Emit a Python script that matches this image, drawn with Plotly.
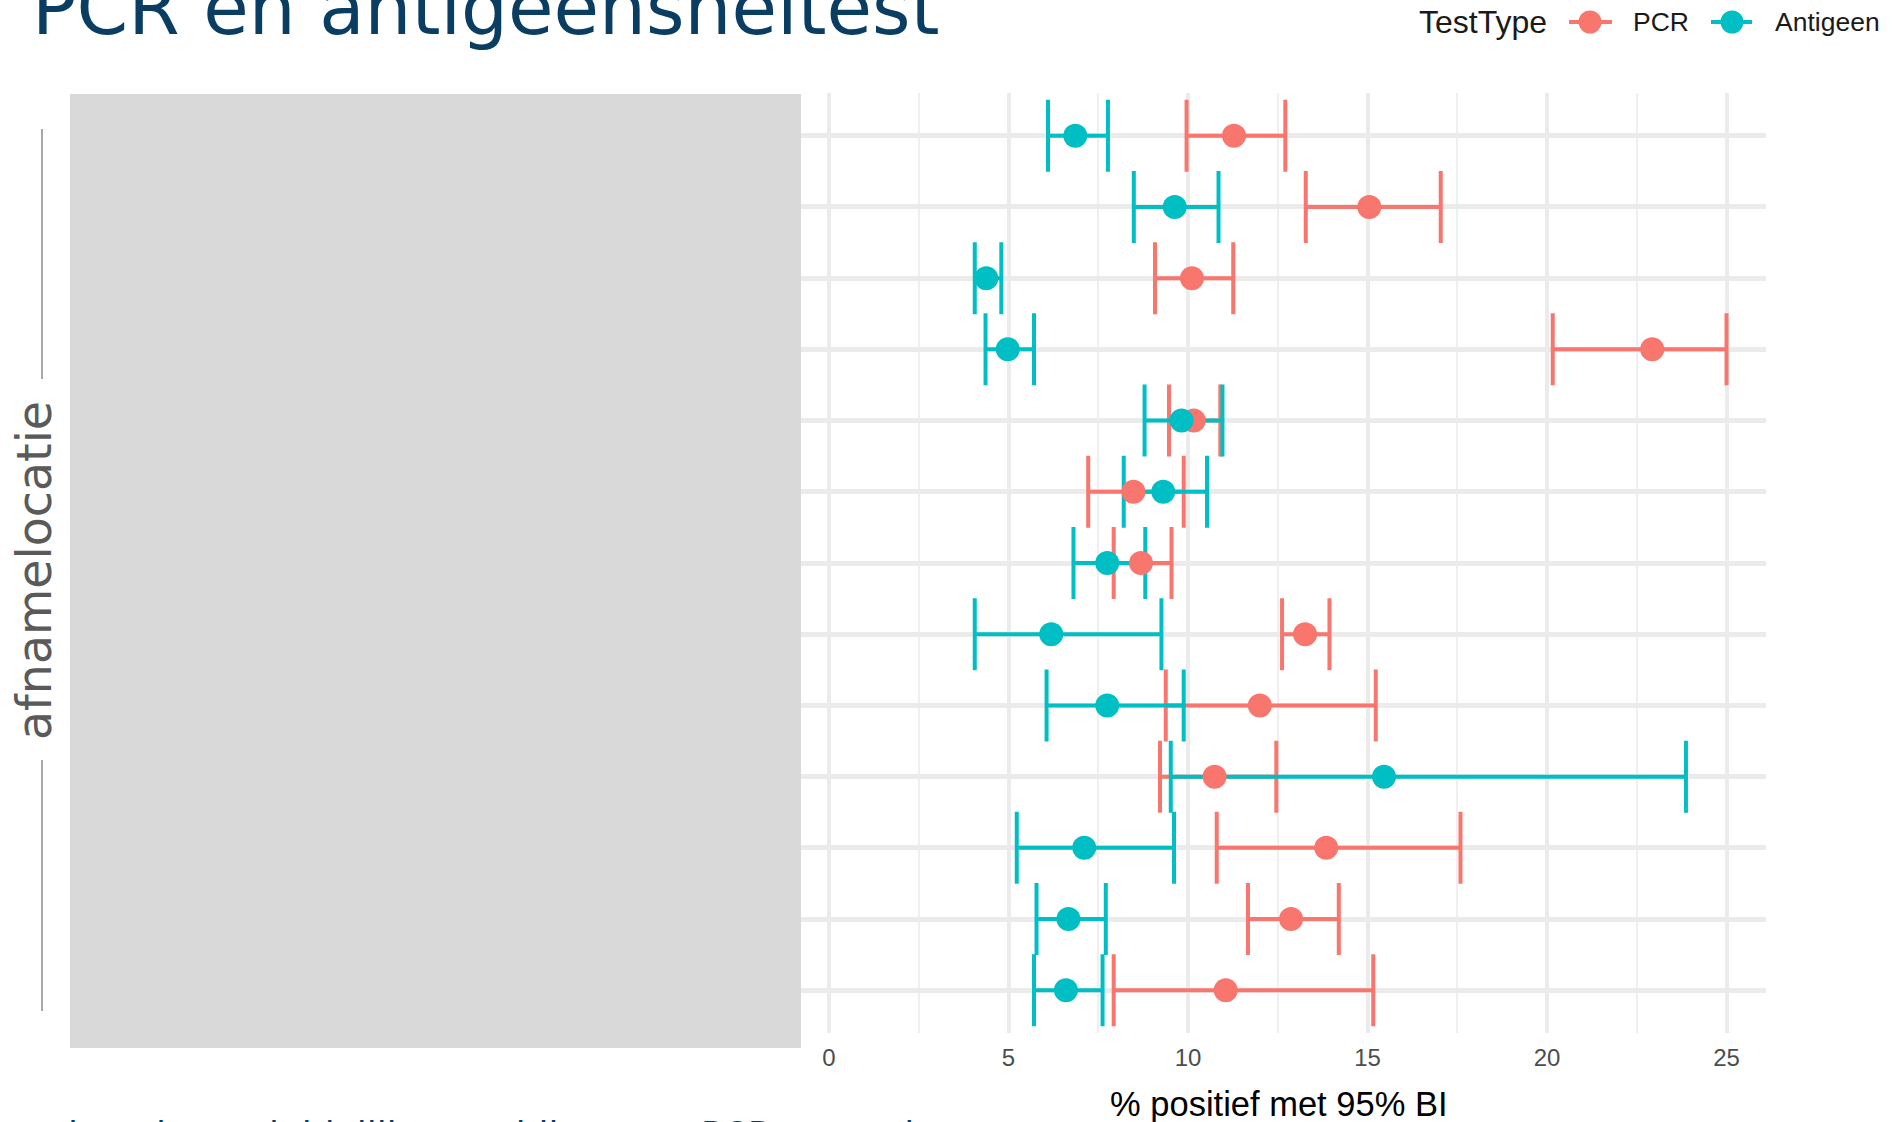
import plotly.graph_objects as go

# ---------------- data ----------------
locaties = [f"Locatie {i}" for i in range(1, 14)]
pcr_pct = [11.28, 15.05, 10.11, 22.93, 10.16, 8.48, 8.69, 13.26, 12.00, 10.74, 13.85, 12.87, 11.05]
pcr_low = [9.96, 13.28, 9.08, 20.16, 9.47, 7.22, 7.93, 12.62, 9.38, 9.22, 10.80, 11.67, 7.93]
pcr_high = [12.71, 17.04, 11.26, 25.00, 10.90, 9.88, 9.54, 13.94, 15.23, 12.46, 17.59, 14.20, 15.16]
ag_pct = [6.86, 9.63, 4.38, 4.98, 9.82, 9.31, 7.75, 6.19, 7.75, 15.46, 7.11, 6.67, 6.60]
ag_low = [6.10, 8.49, 4.06, 4.36, 8.79, 8.21, 6.81, 4.06, 6.06, 9.52, 5.23, 5.78, 5.71]
ag_high = [7.77, 10.85, 4.80, 5.71, 10.96, 10.53, 8.81, 9.26, 9.88, 23.87, 9.61, 7.71, 7.62]
x_ticks = [0, 5, 10, 15, 20, 25]

PCR_COL = "#F8766D"
AG_COL = "#00BFC4"
NAVY = "#0A3D62"

W, H = 1898, 1122
L, R, T, B = 801, 1766, 93, 1033


def px(x):
    return (x - L) / (R - L)


def py(y):
    return (B - y) / (B - T)


fig = go.Figure()


def err_trace(xv, lo, hi, col):
    return go.Scatter(
        x=xv, y=locaties, mode="markers",
        marker=dict(size=2, color=col, opacity=0),
        error_x=dict(type="data", symmetric=False,
                     array=[h - v for h, v in zip(hi, xv)],
                     arrayminus=[v - l for v, l in zip(xv, lo)],
                     color=col, thickness=4, width=36),
        showlegend=False, hoverinfo="skip")


fig.add_trace(err_trace(pcr_pct, pcr_low, pcr_high, PCR_COL))
fig.add_trace(err_trace(ag_pct, ag_low, ag_high, AG_COL))
fig.add_trace(go.Scatter(x=pcr_pct, y=locaties, mode="markers", name="PCR",
                         marker=dict(size=24, color=PCR_COL, line=dict(width=0)),
                         showlegend=False))
fig.add_trace(go.Scatter(x=ag_pct, y=locaties, mode="markers", name="Antigeen",
                         marker=dict(size=24, color=AG_COL, line=dict(width=0)),
                         showlegend=False))

fig.update_layout(
    width=W, height=H, autosize=False,
    margin=dict(l=L, r=W - R, t=T, b=H - B, pad=0),
    paper_bgcolor="white", plot_bgcolor="white",
    xaxis=dict(range=[-0.78, 26.1], tickvals=x_ticks, ticktext=[str(t) for t in x_ticks],
               showgrid=True, gridcolor="#EBEBEB", gridwidth=3.5, zeroline=False,
               showline=False, ticks="", ticklabelstandoff=8,
               tickfont=dict(family="Liberation Sans", size=24, color="#4D4D4D"),
               minor=dict(dtick=2.5, tick0=0, showgrid=True, gridcolor="#EFEFEF", gridwidth=1.8)),
    yaxis=dict(type="category", categoryorder="array", categoryarray=locaties,
               range=[12.6, -0.6], showgrid=True, gridcolor="#EBEBEB", gridwidth=4.5,
               zeroline=False, showticklabels=False, ticks="", showline=False),
    showlegend=False,
)

shapes = []
# grey box covering the location labels
shapes.append(dict(type="rect", xref="paper", yref="paper",
                   x0=px(70), x1=px(801), y0=py(1048), y1=py(94),
                   fillcolor="#D9D9D9", line=dict(width=0), layer="above"))
# bracket lines around the y title
for y0, y1 in [(129, 379), (760, 1011)]:
    shapes.append(dict(type="line", xref="paper", yref="paper",
                       x0=px(42), x1=px(42), y0=py(y0), y1=py(y1),
                       line=dict(color="#8C8C8C", width=1.5)))
# manual legend keys
for xa, xb, xc, col in [(1569, 1612, 1590, PCR_COL), (1711, 1752, 1732, AG_COL)]:
    shapes.append(dict(type="line", xref="paper", yref="paper",
                       x0=px(xa), x1=px(xb), y0=py(22), y1=py(22),
                       line=dict(color=col, width=4)))
    shapes.append(dict(type="circle", xref="paper", yref="paper",
                       x0=px(xc - 11.5), x1=px(xc + 11.5), y0=py(22 + 11.5), y1=py(22 - 11.5),
                       fillcolor=col, line=dict(width=0)))
fig.update_layout(shapes=shapes)

ann = []
ann.append(dict(text="PCR en antigeensneltest", xref="paper", yref="paper",
                x=px(30), y=py(8), xanchor="left", yanchor="middle", showarrow=False,
                font=dict(family="DejaVu Sans", size=74, color=NAVY)))
ann.append(dict(text="afnamelocatie", xref="paper", yref="paper", textangle=-90,
                x=px(34), y=py(571), xanchor="center", yanchor="middle", showarrow=False,
                font=dict(family="DejaVu Sans", size=47.5, color="#5A5A5A")))
ann.append(dict(text="% positief met 95% BI", xref="paper", yref="paper",
                x=px(1279), y=py(1104), xanchor="center", yanchor="middle", showarrow=False,
                font=dict(family="Liberation Sans", size=34.5, color="#000000")))
ann.append(dict(text="TestType", xref="paper", yref="paper",
                x=px(1417), y=py(21.5), xanchor="left", yanchor="middle", showarrow=False,
                font=dict(family="Liberation Sans", size=32, color="#1A1A1A")))
ann.append(dict(text="PCR", xref="paper", yref="paper",
                x=px(1631), y=py(21.5), xanchor="left", yanchor="middle", showarrow=False,
                font=dict(family="Liberation Sans", size=26.5, color="#1A1A1A")))
ann.append(dict(text="Antigeen", xref="paper", yref="paper",
                x=px(1773), y=py(21.5), xanchor="left", yanchor="middle", showarrow=False,
                font=dict(family="Liberation Sans", size=26.5, color="#1A1A1A")))
ann.append(dict(text="locatie en duidelijk verschil tussen PCR en sneltest", xref="paper", yref="paper",
                x=px(66), y=py(1134), xanchor="left", yanchor="middle", showarrow=False,
                font=dict(family="DejaVu Sans", size=36, color=NAVY)))
fig.update_layout(annotations=ann)

fig.write_html("out.html",
               config={"displayModeBar": False},
               post_script="document.body.style.margin='0px';document.body.style.padding='0px';")
